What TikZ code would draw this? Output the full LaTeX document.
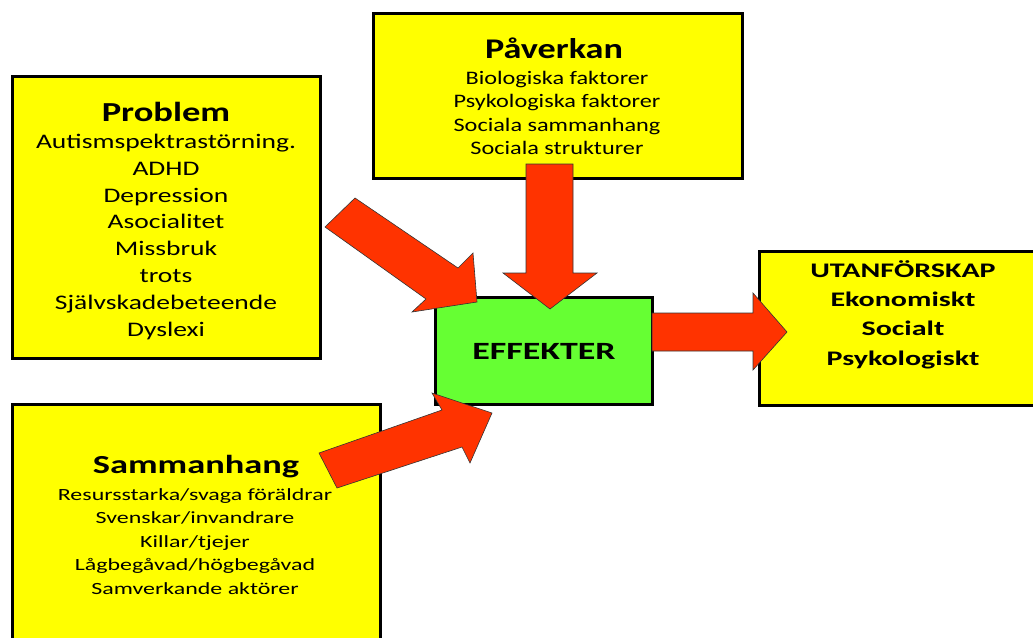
\documentclass[tikz,border=0pt]{standalone}
\usepackage{fontspec}
\setmainfont{Carlito}
\newfontfamily\fpA{Carlito}[FakeStretch=1.33]
\newfontfamily\fpB{Carlito}[FakeStretch=1.27]
\newfontfamily\fpC{Carlito}[FakeStretch=1.45]
\newfontfamily\fpD{Carlito}[FakeStretch=1.40]
\definecolor{boxyellow}{HTML}{FFFF00}
\definecolor{boxgreen}{HTML}{66FF33}
\definecolor{arrowred}{HTML}{FF3300}
\begin{document}
\begin{tikzpicture}[x=1pt,y=-1pt,
  box/.style={draw=black,line width=3pt,inner sep=0pt,outer sep=0pt,anchor=north west},
  ybox/.style={box,fill=boxyellow},
  gbox/.style={box,fill=boxgreen},
  txt/.style={anchor=base,inner sep=0pt,align=center},
  blockarrow/.style={fill=arrowred,draw=black!80,line width=0.6pt,line join=miter}]
\useasboundingbox (0,0) rectangle (1033,637);
% boxes
\node[ybox,minimum width=308pt,minimum height=282pt] (problem) at (12,76) {};
\node[ybox,minimum width=369pt,minimum height=165pt] (paverkan) at (373,13) {};
\node[gbox,minimum width=217pt,minimum height=107pt] (effekter) at (435,297) {};
\node[ybox,minimum width=290pt,minimum height=154pt] (utanfor) at (759,251) {};
\node[ybox,minimum width=368pt,minimum height=260pt] (samman) at (12,404) {};
% texts (anchor base = baseline of the last line)
\node[txt,font=\fpA\bfseries\fontsize{27.5}{30}\selectfont] (problemT) at (166,121) {Problem};
\node[txt,font=\fpA\fontsize{20.7}{26.8}\selectfont] (problemB) at (166,336)
  {Autismspektrastörning.\\ADHD\\Depression\\Asocialitet\\Missbruk\\trots\\Självskadebeteende\\Dyslexi};
\node[txt,font=\fpB\bfseries\fontsize{28.5}{30}\selectfont] (paverkanT) at (554,58) {Påverkan};
\node[txt,font=\fpB\fontsize{19.1}{23.5}\selectfont] (paverkanB) at (557,154.5)
  {Biologiska faktorer\\Psykologiska faktorer\\Sociala sammanhang\\Sociala strukturer};
\node[txt,font=\fpC\bfseries\fontsize{24.8}{26}\selectfont] (effekterT) at (544,359) {EFFEKTER};
\node[txt,font=\fpC\bfseries\fontsize{20.7}{29.3}\selectfont] (utanforT) at (903,365)
  {UTANFÖRSKAP\\Ekonomiskt\\Socialt\\Psykologiskt};
\node[txt,font=\fpD\bfseries\fontsize{26}{28}\selectfont] (sammanT) at (196,473) {Sammanhang};
\node[txt,font=\fpD\fontsize{17.1}{23.5}\selectfont] (sammanB) at (195,594)
  {Resursstarka/svaga föräldrar\\Svenskar/invandrare\\Killar/tjejer\\Lågbegåvad/högbegåvad\\Samverkande aktörer};
% block arrows
\draw[blockarrow] (325,227) -- (355,198) -- (458,268) -- (473,253) -- (477,302) -- (412,312) -- (426,299) -- cycle;
\draw[blockarrow] (526,164) -- (526,273) -- (503,273) -- (550,309) -- (597,273) -- (573,273) -- (573,164) -- cycle;
\draw[blockarrow] (652,313) -- (753,313) -- (753,293) -- (787,332) -- (753,370) -- (753,351) -- (652,351) -- cycle;
\draw[blockarrow] (319,453) -- (442,410) -- (432,393) -- (492,413) -- (470,463) -- (462,447) -- (337,488) -- cycle;
\end{tikzpicture}
\end{document}
